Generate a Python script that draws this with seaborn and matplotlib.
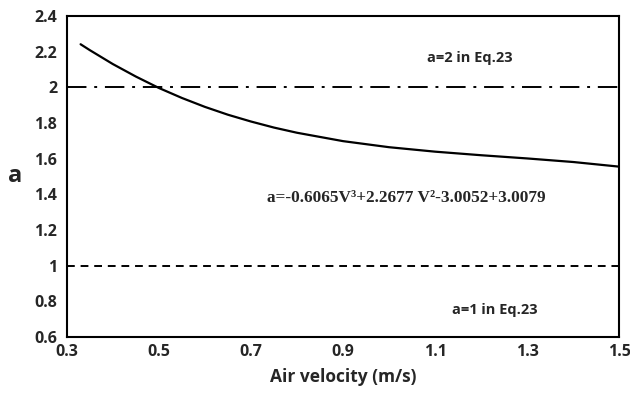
import numpy as np
import pandas as pd
import seaborn as sns
import matplotlib
matplotlib.use("Agg")
import matplotlib.pyplot as plt

# valores
velocity = [0.33, 0.35, 0.40, 0.45, 0.50, 0.55, 0.60, 0.65, 0.70, 0.75, 0.80, 0.90,
            1.00, 1.10, 1.20, 1.30, 1.40, 1.50]
a_values = [2.241, 2.208, 2.130, 2.060, 1.996, 1.940, 1.890, 1.846, 1.808, 1.774, 1.745, 1.698,
            1.664, 1.639, 1.619, 1.601, 1.581, 1.555]
ref_levels = [2, 1]
ref_labels = ["a=2 in Eq.23", "a=1 in Eq.23"]
equation = "a=-0.6065V³+2.2677 V²-3.0052+3.0079"
x_ticks = [0.3, 0.5, 0.7, 0.9, 1.1, 1.3, 1.5]
y_ticks = [0.6, 0.8, 1, 1.2, 1.4, 1.6, 1.8, 2, 2.2, 2.4]

sns.set_style("white")
plt.rcParams["font.family"] = ["Open Sans", "DejaVu Sans"]

df = pd.DataFrame({"V": velocity, "a": a_values})

fig, ax = plt.subplots(figsize=(6.3, 3.97), dpi=100)
fig.subplots_adjust(left=0.106, right=0.983, top=0.960, bottom=0.151)

sns.lineplot(data=df, x="V", y="a", color="black", linewidth=1.6, ax=ax)

# lineas de referencia
ax.axhline(ref_levels[0], color="black", linewidth=1.4, dashes=(10, 4, 1.5, 4))
ax.axhline(ref_levels[1], color="black", linewidth=1.4, dashes=(4, 3))

ax.set_xlim(0.3, 1.5)
ax.set_ylim(0.6, 2.4)
ax.set_xticks(x_ticks)
ax.set_xticklabels([f"{t:g}" for t in x_ticks])
ax.set_yticks(y_ticks)
ax.set_yticklabels([f"{t:g}" for t in y_ticks])
ax.tick_params(axis="both", length=0, labelsize=11.5)
ax.tick_params(axis="y", pad=7)
ax.tick_params(axis="x", pad=5)
for lbl in ax.get_xticklabels() + ax.get_yticklabels():
    lbl.set_fontweight("bold")

for s in ax.spines.values():
    s.set_color("black")
    s.set_linewidth(1.5)

ax.set_xlabel("Air velocity (m/s)", fontsize=12.5, fontweight="bold", labelpad=6)
ax.set_ylabel("a", fontsize=17, fontweight="bold", rotation=0, labelpad=14, va="center")

ax.text(1.176, 2.164, ref_labels[0], fontsize=10.5, fontweight="bold", ha="center", va="center")
ax.text(1.229, 0.751, ref_labels[1], fontsize=10.5, fontweight="bold", ha="center", va="center")
ax.text(1.037, 1.379, equation, fontsize=12.4, fontweight="bold", ha="center", va="center",
        family=["Liberation Serif", "DejaVu Serif"])

fig.savefig("out.png", dpi=100)
